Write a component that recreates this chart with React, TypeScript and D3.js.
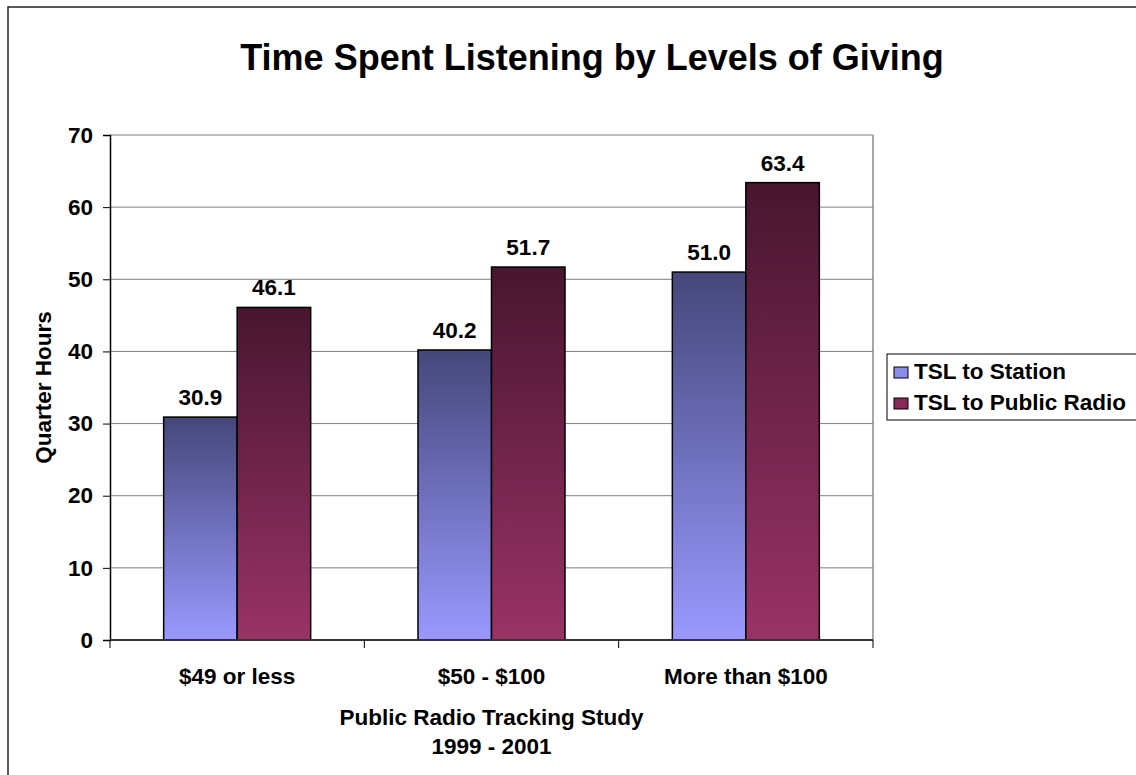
import { useEffect, useRef } from 'react';
import * as d3 from 'd3';

const categories = ['$49 or less', '$50 - $100', 'More than $100'];
const seriesNames = ['TSL to Station', 'TSL to Public Radio'];
const stationValues = [30.9, 40.2, 51.0];
const publicRadioValues = [46.1, 51.7, 63.4];
const yTicks = [0, 10, 20, 30, 40, 50, 60, 70];

const FONT = 'Arial, "Liberation Sans", Helvetica, sans-serif';
const LABEL_SIZE = '22.5px';

export default function App() {
  const svgRef = useRef<SVGSVGElement>(null);

  useEffect(() => {
    if (!svgRef.current) return;
    const svg = d3.select(svgRef.current);
    svg.selectAll('*').remove();

    const W = 1136;
    const H = 775;
    const plot = { left: 110, right: 873, top: 135, bottom: 640 };

    const defs = svg.append('defs');
    const gradients = [
      { id: 'gStation', top: '#45477a', bottom: '#9999ff' },
      { id: 'gPublic', top: '#48162e', bottom: '#993366' },
    ];
    gradients.forEach(gr => {
      const lg = defs.append('linearGradient')
        .attr('id', gr.id)
        .attr('x1', 0).attr('y1', 0).attr('x2', 0).attr('y2', 1);
      lg.append('stop').attr('offset', '0%').attr('stop-color', gr.top);
      lg.append('stop').attr('offset', '100%').attr('stop-color', gr.bottom);
    });

    svg.append('rect')
      .attr('width', W).attr('height', H).attr('fill', '#ffffff');

    // outer chart border
    svg.append('rect')
      .attr('x', 8).attr('y', 7)
      .attr('width', W + 20).attr('height', H + 20)
      .attr('fill', 'none')
      .attr('stroke', '#222')
      .attr('stroke-width', 1.5);

    svg.append('text')
      .attr('x', 592).attr('y', 70)
      .attr('text-anchor', 'middle')
      .style('font-family', FONT)
      .style('font-weight', 'bold')
      .style('font-size', '36px')
      .text('Time Spent Listening by Levels of Giving');

    const x0 = d3.scaleBand<string>()
      .domain(categories)
      .range([plot.left, plot.right])
      .paddingInner(0)
      .paddingOuter(0);

    const x1 = d3.scaleBand<string>()
      .domain(seriesNames)
      .range([0, x0.bandwidth()])
      .paddingInner(0)
      .paddingOuter(0.73);

    const y = d3.scaleLinear().domain([0, 70]).range([plot.bottom, plot.top]);

    const g = svg.append('g');

    // gridlines
    g.selectAll('.grid')
      .data(yTicks.filter(t => t > 0))
      .enter().append('line')
      .attr('x1', plot.left).attr('x2', plot.right)
      .attr('y1', d => y(d)).attr('y2', d => y(d))
      .attr('stroke', '#7f7f7f')
      .attr('stroke-width', 1);

    // right border of plot area
    g.append('line')
      .attr('x1', plot.right).attr('x2', plot.right)
      .attr('y1', plot.top).attr('y2', plot.bottom)
      .attr('stroke', '#8a8a8a')
      .attr('stroke-width', 1.5);

    const rows = categories.map((c, i) => ({
      cat: c,
      vals: [
        { name: seriesNames[0], v: stationValues[i], fill: 'url(#gStation)' },
        { name: seriesNames[1], v: publicRadioValues[i], fill: 'url(#gPublic)' },
      ],
    }));

    const groups = g.selectAll('.grp')
      .data(rows)
      .enter().append('g')
      .attr('transform', d => `translate(${x0(d.cat)},0)`);

    groups.selectAll('rect')
      .data(d => d.vals)
      .enter().append('rect')
      .attr('x', d => x1(d.name)!)
      .attr('y', d => y(d.v))
      .attr('width', x1.bandwidth())
      .attr('height', d => y(0) - y(d.v))
      .attr('fill', d => d.fill)
      .attr('stroke', '#000')
      .attr('stroke-width', 1.5);

    groups.selectAll('.lbl')
      .data(d => d.vals)
      .enter().append('text')
      .attr('x', d => x1(d.name)! + x1.bandwidth() / 2)
      .attr('y', d => y(d.v) - 12)
      .attr('text-anchor', 'middle')
      .style('font-family', FONT)
      .style('font-weight', 'bold')
      .style('font-size', LABEL_SIZE)
      .text(d => d.v.toFixed(1));

    // y axis
    const yAxis = g.append('g')
      .attr('transform', `translate(${plot.left},0)`)
      .call(d3.axisLeft(y).tickValues(yTicks).tickSize(7).tickPadding(10).tickFormat(d3.format('d')) as any);
    yAxis.select('.domain').attr('stroke', '#000').attr('stroke-width', 1.5);
    yAxis.selectAll('.tick line').attr('stroke', '#000');
    yAxis.selectAll('.tick text')
      .style('font-family', FONT)
      .style('font-weight', 'bold')
      .style('font-size', LABEL_SIZE)
      .attr('fill', '#000');

    // x axis
    const xAxis = g.append('g')
      .attr('transform', `translate(0,${plot.bottom})`);
    xAxis.append('line')
      .attr('x1', plot.left).attr('x2', plot.right)
      .attr('stroke', '#333').attr('stroke-width', 2);
    const bounds = [...categories.map(c => x0(c)!), plot.right];
    xAxis.selectAll('.xt')
      .data(bounds)
      .enter().append('line')
      .attr('x1', d => d).attr('x2', d => d)
      .attr('y1', 0).attr('y2', 8)
      .attr('stroke', '#000');
    xAxis.selectAll('.xl')
      .data(categories)
      .enter().append('text')
      .attr('x', d => x0(d)! + x0.bandwidth() / 2)
      .attr('y', 44)
      .attr('text-anchor', 'middle')
      .style('font-family', FONT)
      .style('font-weight', 'bold')
      .style('font-size', LABEL_SIZE)
      .text(d => d);

    const cx = (plot.left + plot.right) / 2;
    ['Public Radio Tracking Study', '1999 - 2001'].forEach((t, i) => {
      svg.append('text')
        .attr('x', cx).attr('y', 725 + i * 29)
        .attr('text-anchor', 'middle')
        .style('font-family', FONT)
        .style('font-weight', 'bold')
        .style('font-size', LABEL_SIZE)
        .text(t);
    });

    svg.append('text')
      .attr('transform', `translate(51,${(plot.top + plot.bottom) / 2}) rotate(-90)`)
      .attr('text-anchor', 'middle')
      .style('font-family', FONT)
      .style('font-weight', 'bold')
      .style('font-size', LABEL_SIZE)
      .text('Quarter Hours');

    // legend
    const legend = svg.append('g');
    legend.append('rect')
      .attr('x', 887).attr('y', 354)
      .attr('width', 260).attr('height', 66)
      .attr('fill', '#fff')
      .attr('stroke', '#000')
      .attr('stroke-width', 1);
    const legendFills = ['#8a8de6', '#862a58'];
    seriesNames.forEach((s, i) => {
      const base = 379 + i * 31;
      legend.append('rect')
        .attr('x', 894).attr('y', base - 12)
        .attr('width', 14).attr('height', 11)
        .attr('fill', legendFills[i])
        .attr('stroke', '#000')
        .attr('stroke-width', 1);
      legend.append('text')
        .attr('x', 914).attr('y', base)
        .style('font-family', FONT)
        .style('font-weight', 'bold')
        .style('font-size', LABEL_SIZE)
        .text(s);
    });
  }, []);

  return (
    <svg
      ref={svgRef}
      width={1136}
      height={775}
      style={{ position: 'absolute', left: 0, top: 0 }}
    />
  );
}
